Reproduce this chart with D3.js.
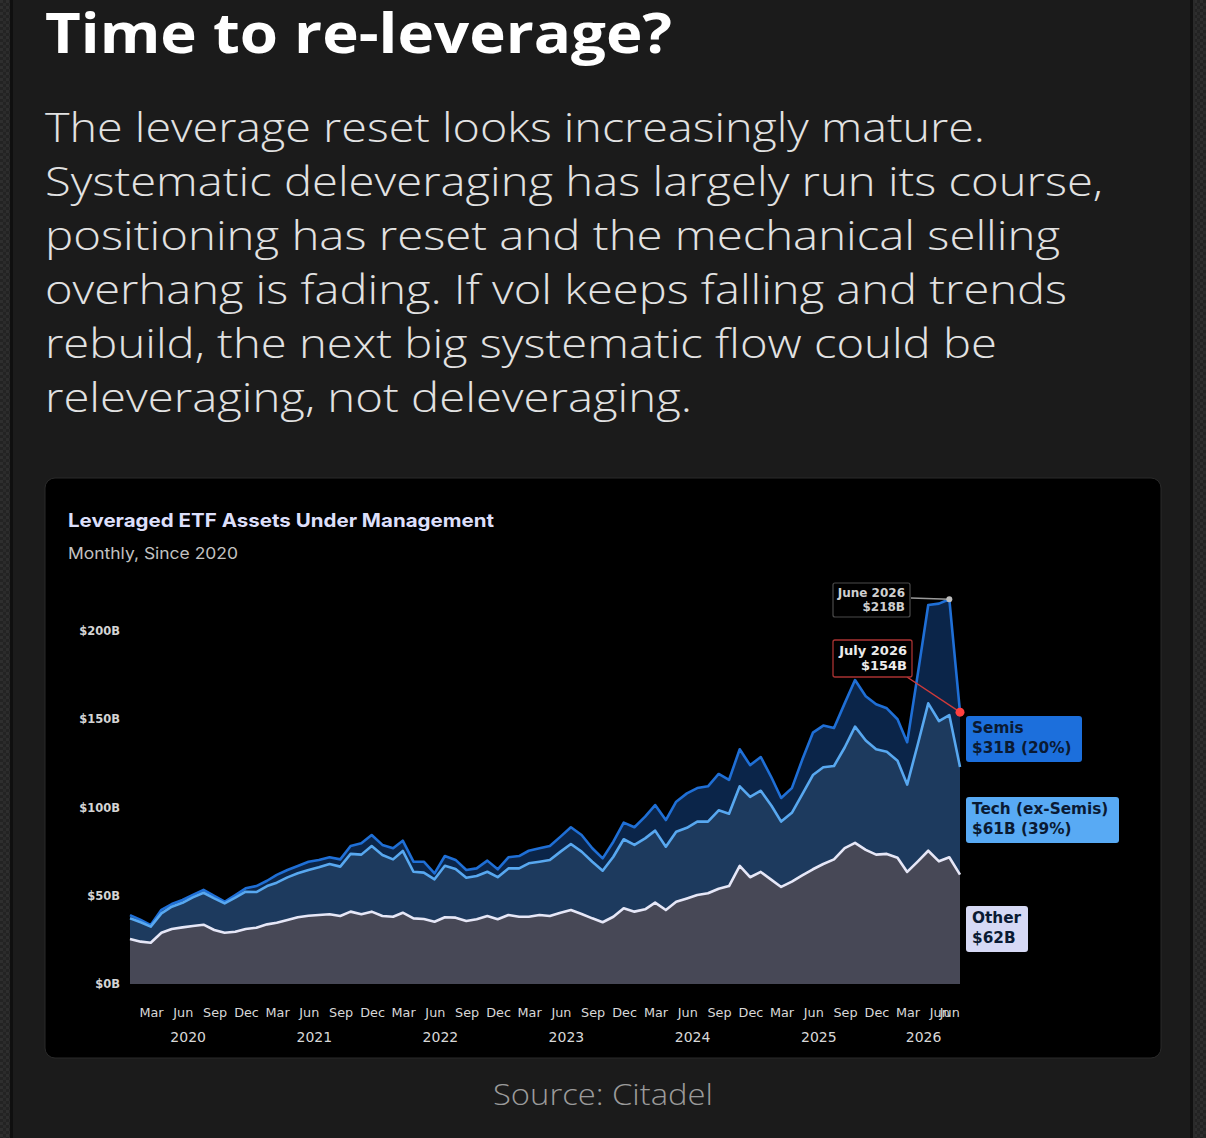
<!DOCTYPE html>
<html>
<head>
<meta charset="utf-8">
<script src="https://cdn.jsdelivr.net/npm/d3@7/dist/d3.min.js"></script>
<style>
  html, body { margin: 0; padding: 0; background: #1b1b1b; }
  svg { display: block; }
</style>
</head>
<body>
<svg id="chart" width="1206" height="1138"></svg>
<script>
// ---------------- DATA ----------------
// Month-end observations, Dec 2019 .. Jul 2026 (80 points), values in $B
const startMonth = "2019-12-31";
const endMonth = "2026-07-31";

const otherValues = [
  25.5, 24, 23.4, 29, 31.2, 32.1, 32.9, 33.6, 30.6, 29, 29.6, 31.2,
  31.9, 33.8, 34.7, 36.3, 37.8, 38.7, 39.1, 39.5, 38.5, 41, 39.5, 41,
  38.5, 38.1, 40.4, 37.2, 36.8, 35.3, 37.8, 37.6, 35.7, 36.7, 38.5, 36.7,
  39.1, 38.1, 38.1, 39.1, 38.5, 40.4, 41.9, 39.7, 37.2, 35, 38.1, 42.9,
  41, 42.3, 46.1, 41.9, 46.6, 48.5, 50.4, 51.4, 54, 55.5, 66.9, 60.5,
  63.5, 59, 55, 58, 61.5, 65, 68, 70.6, 77, 80, 76, 73.3,
  73.7, 71.5, 63.5, 69.5, 75.5, 69.5, 71.8, 62
];
const techValues = [
  11.7, 11, 9.1, 11, 12.6, 13.9, 16.2, 18.1, 17.9, 16.7, 19.3, 21.1,
  20.2, 21.7, 22.7, 24.1, 24.9, 25.9, 27, 28.5, 28, 32.7, 33.8, 37.2,
  34.6, 32.5, 35, 26.4, 26.3, 24, 29.2, 27.6, 24.5, 24.5, 25.1, 23.8,
  26.4, 27.4, 30.3, 30.2, 31.8, 34.6, 37.4, 35.3, 32.1, 29.2, 34, 39.1,
  37.8, 40.2, 40.8, 35.9, 39.7, 40, 41.6, 40.6, 44.4, 41, 45.1, 45.5,
  46, 42, 37, 39, 46, 53.4, 54.8, 52.9, 57, 65.8, 62, 59.7,
  57.9, 55, 49.5, 66.5, 83.5, 79.5, 80.6, 61
];
const semisValues = [
  1.8, 1.3, 0.9, 2, 1.5, 1.6, 1.3, 1.6, 1.4, 0.9, 1.5, 1.9,
  3.4, 3, 4.4, 4.2, 4.2, 4.7, 4.2, 3.8, 4.1, 4.5, 6.4, 6.2,
  5.7, 6.3, 5.8, 5.7, 6.2, 3.4, 5.5, 5.1, 4.4, 4.3, 6.3, 4.5,
  6.3, 7, 7.1, 7.6, 7.9, 8.5, 9.5, 9.4, 7.6, 7, 8.5, 9.4,
  10, 12.3, 14.5, 15.1, 17, 19.5, 19, 20, 20.6, 19.1, 21, 18,
  19.1, 16, 13.4, 14, 19.5, 24, 23.6, 21.5, 25, 26.4, 25, 25.5,
  24.6, 23.5, 24, 40, 55.7, 66.5, 65.6, 31
];

const seriesKeys = ["other", "tech", "semis"];
const seriesLabels = [
  ["Other", "$62B"],
  ["Tech (ex-Semis)", "$61B (39%)"],
  ["Semis", "$31B (20%)"]
];
const yTickValues = [0, 50, 100, 150, 200];
const yTickLabels = ["$0B", "$50B", "$100B", "$150B", "$200B"];
const monthTickLabels = ["Mar", "Jun", "Sep", "Dec"];
const yearLabels = ["2020", "2021", "2022", "2023", "2024", "2025", "2026"];
const peakNote = ["June 2026", "$218B"];
const lastNote = ["July 2026", "$154B"];

const titleText = "Time to re-leverage?";
const bodyLines = [
  "The leverage reset looks increasingly mature.",
  "Systematic deleveraging has largely run its course,",
  "positioning has reset and the mechanical selling",
  "overhang is fading. If vol keeps falling and trends",
  "rebuild, the next big systematic flow could be",
  "releveraging, not deleveraging."
];
const chartTitle = "Leveraged ETF Assets Under Management";
const chartSubtitle = "Monthly, Since 2020";
const sourceText = "Source: Citadel";

// ---------------- BUILD ----------------
const parse = d3.utcParse("%Y-%m-%d");
const t0 = parse(startMonth), t1 = parse(endMonth);
// month-end dates
const dates = d3.utcMonth.range(d3.utcMonth.offset(d3.utcMonth.floor(t0), 1), d3.utcMonth.offset(d3.utcMonth.floor(t1), 2))
  .map(d => d3.utcDay.offset(d, -1));

const rows = dates.map((d, i) => ({
  date: d, other: otherValues[i], tech: techValues[i], semis: semisValues[i]
}));

const svg = d3.select("#chart");
const W = 1206, H = 1138;

// background + side strips
const defs = svg.append("defs");
const pat = defs.append("pattern").attr("id", "tex").attr("width", 6).attr("height", 6)
  .attr("patternUnits", "userSpaceOnUse");
pat.append("rect").attr("width", 6).attr("height", 6).attr("fill", "#232323");
pat.append("rect").attr("width", 3).attr("height", 3).attr("fill", "#2e2e2e");
pat.append("rect").attr("x", 3).attr("y", 3).attr("width", 3).attr("height", 3).attr("fill", "#2b2b2b");

svg.append("rect").attr("width", W).attr("height", H).attr("fill", "#1b1b1b");
svg.append("rect").attr("x", 0).attr("y", 0).attr("width", 10).attr("height", H).attr("fill", "url(#tex)");
svg.append("rect").attr("x", 10).attr("y", 0).attr("width", 3).attr("height", H).attr("fill", "#0f0f0f");
svg.append("rect").attr("x", 1190).attr("y", 0).attr("width", 3).attr("height", H).attr("fill", "#101010");
svg.append("rect").attr("x", 1193).attr("y", 0).attr("width", 2).attr("height", H).attr("fill", "#2a2a2a");
svg.append("rect").attr("x", 1195).attr("y", 0).attr("width", 11).attr("height", H).attr("fill", "url(#tex)");

// headline
const sans = "'Open Sans', 'Noto Sans', Lato, sans-serif";
svg.append("text").attr("x", 45).attr("y", 53)
  .attr("font-family", sans).attr("font-weight", 700).attr("font-size", 56)
  .attr("fill", "#ffffff").attr("textLength", 627).attr("lengthAdjust", "spacingAndGlyphs")
  .text(titleText);

const lineEnds = [985, 1103, 1060, 1067, 997, 692];
bodyLines.forEach((t, i) => {
  svg.append("text").attr("x", 45).attr("y", 142 + i * 54)
    .attr("font-family", sans).attr("font-weight", 300).attr("font-size", 40)
    .attr("fill", "#e2e2e2")
    .attr("textLength", lineEnds[i] - 45).attr("lengthAdjust", "spacingAndGlyphs")
    .text(t);
});

// card
svg.append("rect").attr("x", 45).attr("y", 478).attr("width", 1116).attr("height", 580)
  .attr("rx", 10).attr("fill", "#000").attr("stroke", "#2a2a2a").attr("stroke-width", 1);

svg.append("text").attr("x", 68).attr("y", 527)
  .attr("font-family", "Inter, 'Open Sans', sans-serif").attr("font-weight", 700).attr("font-size", 18.5)
  .attr("fill", "#dcdffa").attr("textLength", 426).attr("lengthAdjust", "spacingAndGlyphs")
  .text(chartTitle);
svg.append("text").attr("x", 68).attr("y", 559)
  .attr("font-family", "Inter, 'Open Sans', sans-serif").attr("font-weight", 400).attr("font-size", 16)
  .attr("fill", "#c2c2c2").attr("textLength", 170).attr("lengthAdjust", "spacingAndGlyphs")
  .text(chartSubtitle);

// scales
const x = d3.scaleUtc().domain([t0, t1]).range([130, 960]);
const y = d3.scaleLinear().domain([0, 200]).range([984, 631]);

const stack = d3.stack().keys(seriesKeys);
const layers = stack(rows);

const fills = { other: "#474856", tech: "#1d3a5e", semis: "#0b2549" };
const strokes = { other: "#e6e7f7", tech: "#58a8f0", semis: "#1f6fd6" };

const area = d3.area().x(d => x(d.data.date)).y0(d => y(d[0])).y1(d => y(d[1]));
const line = d3.line().x(d => x(d.data.date)).y(d => y(d[1]));

const g = svg.append("g");
g.selectAll("path.area").data(layers).join("path")
  .attr("class", "area").attr("d", area).attr("fill", d => fills[d.key]);
// draw lines: semis first, then tech, then other on top
[2, 1, 0].forEach(k => {
  g.append("path").datum(layers[k]).attr("d", line)
    .attr("fill", "none").attr("stroke", strokes[layers[k].key])
    .attr("stroke-width", 2.6).attr("stroke-linejoin", "round");
});

// y axis labels
const dv = "'DejaVu Sans', sans-serif";
const yAxis = d3.axisLeft(y).tickValues(yTickValues)
  .tickFormat((d, i) => yTickLabels[i]).tickSize(0).tickPadding(0);
const yg = svg.append("g").attr("transform", "translate(120,0)").call(yAxis);
yg.select(".domain").remove();
yg.selectAll("text").attr("font-family", dv).attr("font-weight", 700).attr("font-size", 11.5)
  .attr("fill", "#d4d4d4");

// x axis month labels (quarterly: Mar, Jun, Sep, Dec) + final "Jun" at the peak point
const quarterTicks = d3.utcMonth.range(parse("2020-03-01"), parse("2026-06-02"), 3);
const peakIdx = 78, lastIdx = 79;
const xTickVals = quarterTicks.concat([rows[peakIdx].date]);
const monthNum = [2, 5, 8, 11];
const xAxis = d3.axisBottom(x).tickValues(xTickVals)
  .tickFormat((d, i) => i < quarterTicks.length
    ? monthTickLabels[monthNum.indexOf(d.getUTCMonth())]
    : monthTickLabels[1])
  .tickSize(0).tickPadding(0);
const xg = svg.append("g").attr("transform", "translate(0,1008)").call(xAxis);
xg.select(".domain").remove();
xg.selectAll("text").attr("font-family", dv).attr("font-size", 12.8).attr("fill", "#d8d8d8");

// year labels
yearLabels.forEach(yr => {
  const a = parse(yr + "-01-01");
  const b = d3.min([parse(yr + "-12-01"), t1]);
  svg.append("text").attr("x", (x(a) + x(b)) / 2).attr("y", 1042)
    .attr("text-anchor", "middle").attr("font-family", dv).attr("font-size", 14)
    .attr("fill", "#d8d8d8").text(yr);
});

// annotations
const peak = rows[peakIdx], last = rows[lastIdx];
const peakY = y(peak.other + peak.tech + peak.semis);
const lastY = y(last.other + last.tech + last.semis);

// June note
svg.append("line").attr("x1", 911).attr("y1", 598).attr("x2", x(peak.date)).attr("y2", peakY)
  .attr("stroke", "#9a9a9a").attr("stroke-width", 1.4);
svg.append("rect").attr("x", 833).attr("y", 583).attr("width", 77).attr("height", 34).attr("rx", 2)
  .attr("fill", "#000").attr("stroke", "#4a4a4a").attr("stroke-width", 1.2);
peakNote.forEach((t, i) => {
  svg.append("text").attr("x", 905).attr("y", 597 + i * 14).attr("text-anchor", "end")
    .attr("font-family", dv).attr("font-weight", 700).attr("font-size", 12)
    .attr("fill", "#cfcfcf").text(t);
});
svg.append("circle").attr("cx", x(peak.date)).attr("cy", peakY).attr("r", 3)
  .attr("fill", "#bdbdbd");

// July note
svg.append("line").attr("x1", 907).attr("y1", 677).attr("x2", x(last.date)).attr("y2", lastY)
  .attr("stroke", "#d03a3a").attr("stroke-width", 1.4);
svg.append("rect").attr("x", 833).attr("y", 640).attr("width", 79).attr("height", 37).attr("rx", 2)
  .attr("fill", "#000").attr("stroke", "#a83232").attr("stroke-width", 1.3);
lastNote.forEach((t, i) => {
  svg.append("text").attr("x", 907).attr("y", 655 + i * 15).attr("text-anchor", "end")
    .attr("font-family", dv).attr("font-weight", 700).attr("font-size", 13)
    .attr("fill", "#ececec").text(t);
});
svg.append("circle").attr("cx", x(last.date)).attr("cy", lastY).attr("r", 4.5)
  .attr("fill", "#ff4040");

// right-hand labels
const labelBoxes = [
  { key: "other", top: 906, w: 62, fill: "#d6d9f5" },
  { key: "tech", top: 797, w: 153, fill: "#58aaf4" },
  { key: "semis", top: 716, w: 116, fill: "#1c6fdc" }
];
labelBoxes.forEach((b, k) => {
  svg.append("rect").attr("x", 966).attr("y", b.top).attr("width", b.w).attr("height", 46)
    .attr("rx", 3).attr("fill", b.fill);
  seriesLabels[k].forEach((t, i) => {
    svg.append("text").attr("x", 972).attr("y", b.top + 17 + i * 20)
      .attr("font-family", dv).attr("font-weight", 700).attr("font-size", 15.3)
      .attr("fill", "#0a1a33").text(t);
  });
});

// source
svg.append("text").attr("x", 603).attr("y", 1105).attr("text-anchor", "middle")
  .attr("font-family", sans).attr("font-weight", 300).attr("font-size", 29)
  .attr("fill", "#9b9b9b").attr("textLength", 220).attr("lengthAdjust", "spacingAndGlyphs")
  .text(sourceText);
</script>
</body>
</html>
